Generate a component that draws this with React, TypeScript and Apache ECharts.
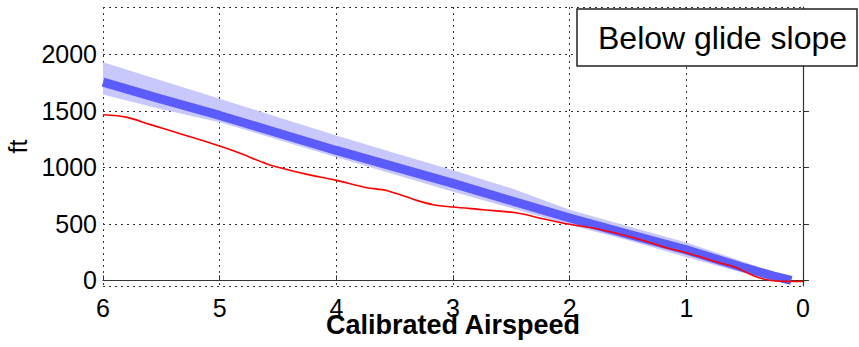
import React, { useEffect, useRef } from "react";
import * as echarts from "echarts";

// Distance (x axis, reversed) sample positions for the glide-slope band
const bandX = [6, 5.5, 5, 4.5, 4, 3.5, 3, 2.5, 2, 1.5, 1, 0.5, 0.25, 0.1];
const glideCenter = [1755, 1605, 1460, 1305, 1150, 1005, 858, 705, 552, 410, 270, 110, 38, 0];
const bandUpper = [1930, 1770, 1608, 1445, 1283, 1128, 975, 815, 625, 480, 335, 162, 68, 0];
const bandLower = [1645, 1515, 1400, 1245, 1090, 938, 785, 640, 490, 355, 205, 62, 12, 0];

// Measured altitude (red)
const flightX = [6.0, 5.8, 5.6, 5.31, 5.0, 4.83, 4.6, 4.45, 4.25, 4.0, 3.74, 3.57, 3.31, 3.17, 3.0, 2.74, 2.45, 2.23, 2.0, 1.74, 1.45, 1.17, 1.0, 0.74, 0.57, 0.43, 0.31, 0.14, 0.0];
const flightAlt = [1466, 1445, 1381, 1289, 1189, 1127, 1032, 988, 938, 885, 820, 796, 708, 670, 649, 625, 596, 546, 496, 451, 378, 289, 245, 162, 112, 44, 6, -9, -10];

const xTicks = [0, 1, 2, 3, 4, 5, 6];
const yTicks = [0, 500, 1000, 1500, 2000];

const FONT = "'Liberation Sans', Arial, sans-serif";

export default function App() {
  const ref = useRef<HTMLDivElement>(null);
  useEffect(() => {
    document.body.style.margin = "0";
    const chart = echarts.init(ref.current!, null, { renderer: "svg" });
    const dotted = { color: "#333", width: 1, type: [2, 4] as any };
    chart.setOption({
      animation: false,
      grid: { left: 103, right: 56, top: 7, bottom: 61, containLabel: false, outerBoundsMode: "none" },
      xAxis: {
        type: "value",
        min: xTicks[0],
        max: xTicks[xTicks.length - 1],
        interval: 1,
        inverse: true,
        name: "Calibrated Airspeed",
        nameLocation: "middle",
        nameGap: 32,
        nameMoveOverlap: false,
        nameTextStyle: {
          fontFamily: FONT,
          fontSize: 27,
          fontWeight: "bold",
          color: "#000",
          backgroundColor: "#fff",
          lineHeight: 14,
          padding: [0, 12, 8, 12],
        },
        axisLine: { lineStyle: { color: "#333", width: 1.2 } },
        axisTick: { inside: true, length: 5, lineStyle: { color: "#333" } },
        axisLabel: { fontFamily: FONT, fontSize: 25, color: "#000", margin: 9 },
        splitLine: { show: true, lineStyle: dotted },
      },
      yAxis: {
        type: "value",
        min: -50,
        max: 2420,
        splitNumber: 5,
        name: "ft",
        nameLocation: "middle",
        nameGap: 66,
        nameTextStyle: { fontFamily: FONT, fontSize: 25, color: "#000" },
        axisLine: { show: true, lineStyle: { color: "#333", width: 1.2 } },
        axisTick: { show: true, inside: true, length: 6, lineStyle: { color: "#333" } },
        axisLabel: {
          fontFamily: FONT,
          fontSize: 25,
          color: "#000",
          margin: 6,
          showMinLabel: false,
          showMaxLabel: false,
          formatter: (v: number) => (yTicks.includes(v) ? String(v) : ""),
        },
        splitLine: { show: true, lineStyle: dotted },
      },
      series: [
        {
          type: "custom",
          data: bandX.map((x, i) => [x, bandLower[i], bandUpper[i]]),
          encode: { x: 0, y: [1, 2] },
          silent: true,
          z: 1,
          renderItem: (params: any, api: any) => {
            if (params.dataIndex !== 0) return null;
            const up = bandX.map((x, i) => api.coord([x, bandUpper[i]]));
            const lo = bandX.map((x, i) => api.coord([x, bandLower[i]])).reverse();
            return {
              type: "polygon",
              shape: { points: up.concat(lo) },
              style: { fill: "#c8c8fc", stroke: "none" },
            };
          },
        },
        {
          type: "line",
          data: bandX.map((x, i) => [x, glideCenter[i]]),
          symbol: "none",
          lineStyle: { color: "#5c5cfc", width: 9, cap: "butt" },
          z: 2,
        },
        {
          type: "line",
          data: flightX.map((x, i) => [x, flightAlt[i]]),
          symbol: "none",
          smooth: 0.3,
          lineStyle: { color: "#ff0000", width: 1.6 },
          z: 3,
        },
      ],
      graphic: [
        {
          type: "rect",
          shape: { x: 577, y: 9, width: 280, height: 57 },
          style: { fill: "#fff", stroke: "#222", lineWidth: 1.5 },
          z: 100,
        },
        {
          type: "text",
          x: 598,
          y: 38,
          style: {
            text: "Below glide slope",
            fontFamily: FONT,
            fontSize: 32,
            fill: "#000",
            verticalAlign: "middle",
          },
          z: 101,
        },
      ],
    });
    return () => chart.dispose();
  }, []);
  return (
    <div
      ref={ref}
      style={{ position: "fixed", left: 0, top: 0, width: 859, height: 347, background: "#fff" }}
    />
  );
}
